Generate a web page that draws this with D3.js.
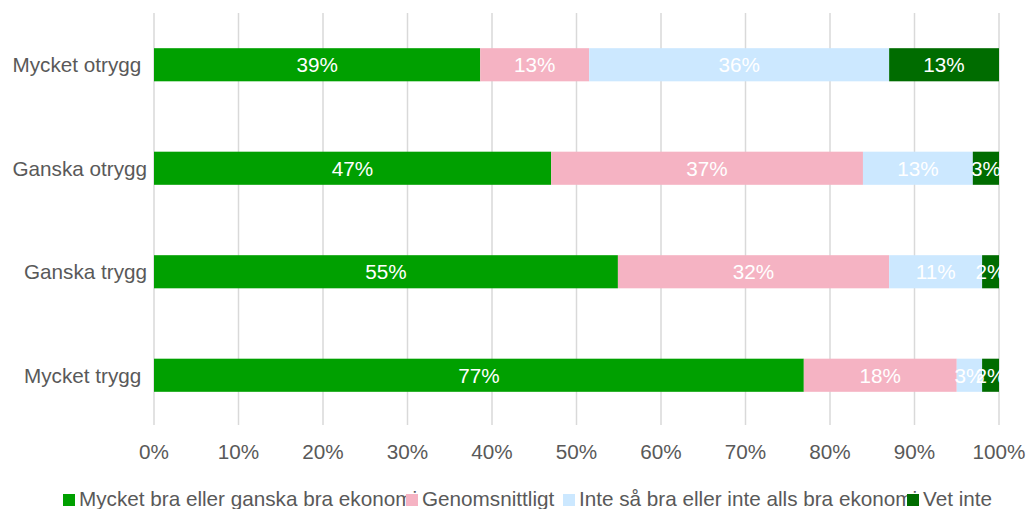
<!DOCTYPE html>
<html>
<head>
<meta charset="utf-8">
<script src="https://cdn.jsdelivr.net/npm/d3@7"></script>
<style>
  body { margin: 0; background: #fff; }
  text { font-family: "Liberation Sans", Arial, sans-serif; }
</style>
</head>
<body>
<div id="chart"></div>
<script>
// data
var categories = ["Mycket otrygg ", "Ganska otrygg", "Ganska trygg", "Mycket trygg "];
var seriesNames = ["Mycket bra eller ganska bra ekonomi", "Genomsnittligt", "Inte så bra eller inte alls bra ekonomi", "Vet inte"];
var goodValues = [38.6, 47.0, 54.9, 76.9];
var avgValues = [12.9, 36.9, 32.1, 18.1];
var badValues = [35.5, 13.0, 11.0, 3.0];
var dontKnowValues = [13.0, 3.1, 2.0, 2.0];
var barLabels = [
    ["39%", "13%", "36%", "13%"],
    ["47%", "37%", "13%", "3%"],
    ["55%", "32%", "11%", "2%"],
    ["77%", "18%", "3%", "2%"]
];
var tickValues = [0, 10, 20, 30, 40, 50, 60, 70, 80, 90, 100];

var colors = ["#00a000", "#f5b3c3", "#cce8ff", "#006c00"];
var fontSize = "20.7px";

var width = 1030, height = 509;

var svg = d3.select("#chart").append("svg")
    .attr("width", width)
    .attr("height", height);

// set the ranges
var x = d3.scaleLinear().domain([0, 100]).range([154, 999]);
var y = d3.scaleBand().domain(categories).range([13, 427])
    .paddingInner(0.68).paddingOuter(0.34);

// gridlines
svg.append("g")
    .selectAll("line")
    .data(tickValues)
    .enter().append("line")
    .attr("x1", function (d) { return x(d); })
    .attr("x2", function (d) { return x(d); })
    .attr("y1", 13)
    .attr("y2", 425)
    .style("stroke", "#d9d9d9")
    .style("stroke-width", 1.5);

// build stacked rows
var rows = categories.map(function (c, i) {
    var row = { cat: c };
    row[0] = goodValues[i];
    row[1] = avgValues[i];
    row[2] = badValues[i];
    row[3] = dontKnowValues[i];
    return row;
});
var stack = d3.stack().keys([0, 1, 2, 3]);
var layers = stack(rows);

var layerG = svg.selectAll(".layer")
    .data(layers)
    .enter().append("g")
    .attr("class", "layer")
    .attr("fill", function (d, i) { return colors[i]; });

layerG.selectAll("rect")
    .data(function (d) { return d; })
    .enter().append("rect")
    .attr("x", function (d) { return x(d[0]); })
    .attr("width", function (d) { return x(d[1]) - x(d[0]); })
    .attr("y", function (d) { return y(d.data.cat); })
    .attr("height", y.bandwidth());

// value labels
layers.forEach(function (layer, k) {
    svg.append("g")
        .selectAll("text")
        .data(layer)
        .enter().append("text")
        .attr("x", function (d) { return (x(d[0]) + x(d[1])) / 2; })
        .attr("y", function (d) { return y(d.data.cat) + y.bandwidth() / 2; })
        .attr("dy", "0.36em")
        .style("text-anchor", "middle")
        .style("font-size", fontSize)
        .style("fill", "#fff")
        .text(function (d, i) { return barLabels[i][k]; });
});

// category labels
svg.append("g")
    .selectAll("text")
    .data(categories)
    .enter().append("text")
    .attr("x", 147)
    .attr("y", function (d) { return y(d) + y.bandwidth() / 2; })
    .attr("dy", "0.36em")
    .attr("xml:space", "preserve")
    .style("white-space", "pre")
    .style("text-anchor", "end")
    .style("font-size", fontSize)
    .style("fill", "#595959")
    .text(function (d) { return d; });

// x tick labels
svg.append("g")
    .selectAll("text")
    .data(tickValues)
    .enter().append("text")
    .attr("x", function (d) { return x(d); })
    .attr("y", 459)
    .style("text-anchor", "middle")
    .style("font-size", fontSize)
    .style("fill", "#595959")
    .text(function (d) { return d + "%"; });

// legend
var legendX = [63, 406, 563, 907];
seriesNames.forEach(function (name, i) {
    svg.append("rect")
        .attr("x", legendX[i])
        .attr("y", 494)
        .attr("width", 12)
        .attr("height", 12)
        .attr("fill", colors[i]);
    svg.append("text")
        .attr("x", legendX[i] + 16)
        .attr("y", 506)
        .style("font-size", fontSize)
        .style("fill", "#595959")
        .text(name);
});
</script>
</body>
</html>
